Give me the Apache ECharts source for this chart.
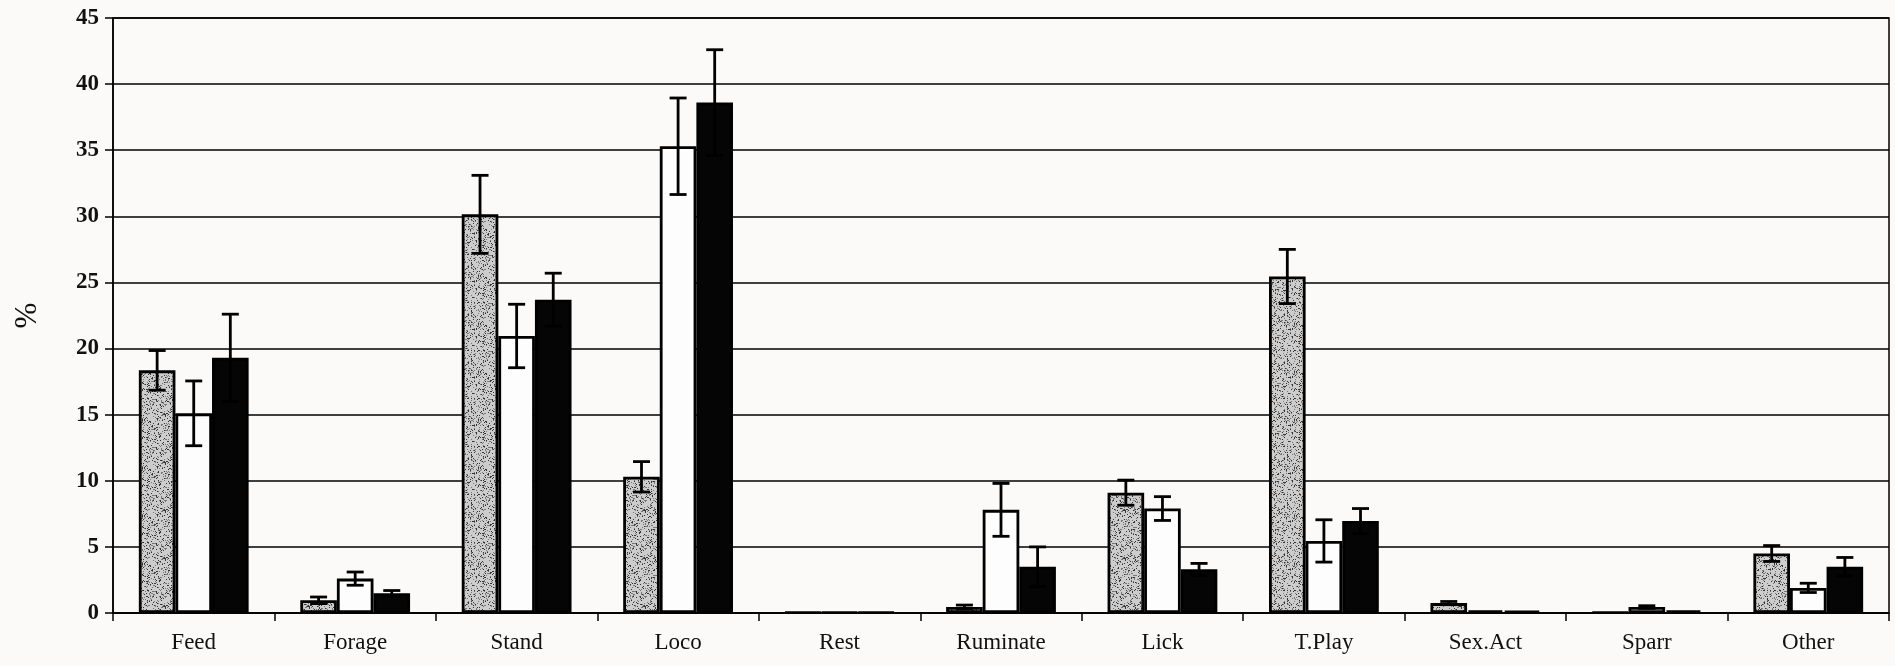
<!DOCTYPE html>
<html>
<head>
<meta charset="utf-8">
<script src="https://cdn.jsdelivr.net/npm/echarts@6/dist/echarts.min.js"></script>
<style>
  html, body { margin: 0; padding: 0; background: #fbfaf9; }
  #chart { width: 1895px; height: 666px; }
</style>
</head>
<body>
<div id="chart"></div>
<script>
const categories = ['Feed', 'Forage', 'Stand', 'Loco', 'Rest', 'Ruminate', 'Lick', 'T.Play', 'Sex.Act', 'Sparr', 'Other'];
const yTicks = [0, 5, 10, 15, 20, 25, 30, 35, 40, 45];

// three groups: stippled, white, black
const grayValues  = [18.35, 0.96, 30.15, 10.3, 0.05, 0.45, 9.1, 25.45, 0.75, 0.05, 4.5];
const grayErrors  = [1.5, 0.25, 2.95, 1.15, 0, 0.15, 0.95, 2.05, 0.12, 0, 0.6];
const whiteValues = [15.1, 2.6, 20.95, 35.3, 0.05, 7.8, 7.9, 5.45, 0.2, 0.45, 1.9];
const whiteErrors = [2.45, 0.5, 2.4, 3.65, 0, 2.0, 0.9, 1.6, 0, 0.1, 0.35];
const blackValues = [19.3, 1.5, 23.7, 38.6, 0.05, 3.5, 3.3, 6.95, 0.15, 0.2, 3.5];
const blackErrors = [3.3, 0.2, 2.0, 4.0, 0, 1.5, 0.45, 0.95, 0, 0, 0.7];

const CAT_GAP = 0.32;

// stipple texture for the grey bars (deterministic hash, not data)
function makeStipple() {
    const c = document.createElement('canvas');
    c.width = 48; c.height = 48;
    const ctx = c.getContext('2d');
    ctx.fillStyle = '#cdcdcd';
    ctx.fillRect(0, 0, 48, 48);
    for (let i = 0; i < 560; i++) {
        const h1 = Math.abs(Math.sin(i * 12.9898) * 43758.5453) % 1;
        const h2 = Math.abs(Math.sin(i * 78.233) * 12345.6789) % 1;
        const h3 = Math.abs(Math.sin(i * 3.7) * 9876.54) % 1;
        ctx.fillStyle = h3 > 0.5 ? '#333' : '#777';
        ctx.fillRect(Math.floor(h1 * 48), Math.floor(h2 * 48), 1, 1);
    }
    return c;
}

function errSeries(k, values, errors) {
    return {
        type: 'custom',
        z: 5,
        silent: true,
        data: values.map((v, i) => [i, v - errors[i], v + errors[i], errors[i]]),
        renderItem: function (params, api) {
            if (api.value(3) <= 0) return null;
            const i = api.value(0);
            const lo = api.coord([i, api.value(1)]);
            const hi = api.coord([i, api.value(2)]);
            const band = api.size([1, 0])[0];
            const bw = band * (1 - CAT_GAP) / 3;
            const x = lo[0] + (k - 1) * bw;
            const cap = 8.5;
            const st = { stroke: '#000', lineWidth: 2.8 };
            return {
                type: 'group',
                children: [
                    { type: 'line', shape: { x1: x, y1: lo[1], x2: x, y2: hi[1] }, style: st },
                    { type: 'line', shape: { x1: x - cap, y1: hi[1], x2: x + cap, y2: hi[1] }, style: st },
                    { type: 'line', shape: { x1: x - cap, y1: lo[1], x2: x + cap, y2: lo[1] }, style: st }
                ]
            };
        }
    };
}

const chart = echarts.init(document.getElementById('chart'));
const stipple = makeStipple();

const option = {
    backgroundColor: '#fbfaf9',
    animation: false,
    grid: {
        left: 113, right: 6, top: 18, bottom: 53,
        show: true, borderColor: '#000', borderWidth: 1.5
    },
    xAxis: {
        type: 'category',
        data: categories,
        axisLine: { lineStyle: { color: '#000', width: 1.5 } },
        axisTick: { show: true, length: 8, interval: 0, lineStyle: { color: '#000', width: 1.5 } },
        axisLabel: {
            interval: 0, margin: 18,
            fontFamily: 'Liberation Serif', fontSize: 23, color: '#111'
        }
    },
    yAxis: {
        type: 'value',
        min: yTicks[0],
        max: yTicks[yTicks.length - 1],
        interval: 5,
        name: '%',
        nameLocation: 'middle',
        nameRotate: 90,
        nameGap: 70,
        nameTextStyle: { fontFamily: 'Liberation Serif', fontSize: 31, color: '#111' },
        axisLine: { show: true, lineStyle: { color: '#000', width: 1.5 } },
        axisTick: { show: true, length: 8, lineStyle: { color: '#000', width: 1.5 } },
        axisLabel: {
            margin: 14,
            fontFamily: 'Liberation Serif', fontWeight: 'bold', fontSize: 23, color: '#111'
        },
        splitLine: { lineStyle: { color: '#000', width: 1.5 } }
    },
    series: [
        {
            type: 'bar', name: 'A', data: grayValues,
            barCategoryGap: (CAT_GAP * 100) + '%', barGap: '0%',
            itemStyle: { color: { image: stipple, repeat: 'repeat' }, borderColor: '#000', borderWidth: 2.8 }
        },
        {
            type: 'bar', name: 'B', data: whiteValues,
            barCategoryGap: (CAT_GAP * 100) + '%', barGap: '0%',
            itemStyle: { color: '#fdfdfd', borderColor: '#000', borderWidth: 2.8 }
        },
        {
            type: 'bar', name: 'C', data: blackValues,
            barCategoryGap: (CAT_GAP * 100) + '%', barGap: '0%',
            itemStyle: { color: '#050505', borderColor: '#000', borderWidth: 2.8 }
        },
        errSeries(0, grayValues, grayErrors),
        errSeries(1, whiteValues, whiteErrors),
        errSeries(2, blackValues, blackErrors)
    ]
};

chart.setOption(option);
window.addEventListener('resize', () => chart.resize());
</script>
</body>
</html>
